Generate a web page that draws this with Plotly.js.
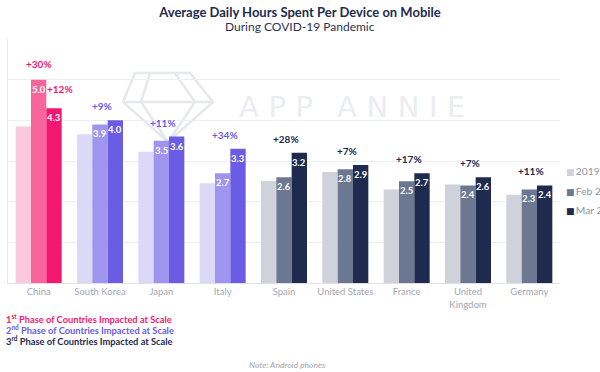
<!DOCTYPE html>
<html>
<head>
<meta charset="utf-8">
<script src="https://cdn.plot.ly/plotly-3.0.1.min.js"></script>
<style>html,body{margin:0;padding:0;background:#fff;}#chart{width:600px;height:372px;}</style>
</head>
<body>
<div id="chart"></div>
<script>
// ---- data ----
const categories = ['China','South Korea','Japan','Italy','Spain','United States','France','United<br>Kingdom','Germany'];
const phase = [1,2,2,2,3,3,3,3,3];
const seriesNames = ['2019','Feb 2020','Mar 2020'];
const hours2019 = [3.85,3.66,3.23,2.45,2.51,2.73,2.30,2.42,2.17];
const hoursFeb2020 = [5.0,3.9,3.5,2.7,2.6,2.8,2.5,2.4,2.3];
const hoursMar2020 = [4.3,4.0,3.6,3.3,3.2,2.9,2.7,2.6,2.4];
const changeMarVs2019 = ['+12%','+9%','+11%','+34%','+28%','+7%','+17%','+7%','+11%'];
const changeFebVs2019China = '+30%';
const phaseNotes = ['1<sup>st</sup> Phase of Countries Impacted at Scale','2<sup>nd</sup> Phase of Countries Impacted at Scale','3<sup>rd</sup> Phase of Countries Impacted at Scale'];
const titleText = 'Average Daily Hours Spent Per Device on Mobile';
const subtitleText = 'During COVID-19 Pandemic';

// ---- styles ----
const FONT = 'Lato, "Open Sans", "DejaVu Sans", sans-serif';
const phaseColors = {
  1: ['#fbc9dc','#f7659c','#f2176f'],
  2: ['#dcd9f7','#9f94ee','#6a5ce3'],
  3: ['#cfd2da','#6c7791','#1e2b4f']
};
const phaseTextColors = {1:'#f2176f', 2:'#6a5ce3', 3:'#1e2b4f'};
const M = {l:8, r:40, t:39, b:89};
const W = 600, H = 372;
const plotW = W - M.l - M.r, plotH = H - M.t - M.b;
const bargap = 0.25;
const barW = plotW / categories.length * (1 - bargap) / 3;
const px2x = p => (p - M.l) / plotW;
const px2y = p => (H - M.b - p) / plotH;

const seriesValues = [hours2019, hoursFeb2020, hoursMar2020];
const traces = seriesValues.map((vals, s) => ({
  type: 'bar',
  name: seriesNames[s],
  x: categories,
  y: vals,
  marker: {color: phase.map(p => phaseColors[p][s]), line: {width: 0}},
  showlegend: false,
  hoverinfo: 'x+y+name'
}));

const annotations = [];
// subtitle
annotations.push({
  xref: 'paper', yref: 'paper', x: px2x(300), y: px2y(27),
  xanchor: 'center', yanchor: 'middle', showarrow: false,
  text: subtitleText,
  font: {family: FONT, size: 12, color: '#2a3556'}
});
// value labels inside Feb / Mar bars
[1,2].forEach(s => {
  seriesValues[s].forEach((v, i) => {
    annotations.push({
      x: categories[i], y: v, xref: 'x', yref: 'y',
      text: '<b>' + v.toFixed(1) + '</b>',
      showarrow: false, yanchor: 'top', xanchor: 'center',
      xshift: (s - 1) * barW, yshift: -2,
      font: {family: FONT, size: 9.5, color: '#ffffff'}
    });
  });
});
// percent change labels
annotations.push({
  x: categories[0], y: hoursFeb2020[0], xref: 'x', yref: 'y',
  text: '<b>' + changeFebVs2019China + '</b>', showarrow: false,
  yanchor: 'middle', yshift: 16, xshift: 0,
  font: {family: FONT, size: 10, color: phaseTextColors[1]}
});
changeMarVs2019.forEach((t, i) => {
  const china = i === 0;
  annotations.push({
    x: categories[i], y: hoursMar2020[i], xref: 'x', yref: 'y',
    text: '<b>' + t + '</b>', showarrow: false,
    yanchor: 'middle', yshift: china ? 19 : 14, xshift: china ? barW + 6 : 2,
    font: {family: FONT, size: 10, color: phaseTextColors[phase[i]]}
  });
});
// legend (drawn as annotations to keep swatch close to text)
const legendY = [170.5, 190.5, 210.5];
seriesNames.forEach((n, s) => {
  annotations.push({
    xref: 'paper', yref: 'paper', x: px2x(564), y: px2y(legendY[s]),
    xanchor: 'left', yanchor: 'middle', showarrow: false,
    text: '<span style="color:' + phaseColors[3][s] + ';font-size:9px">■</span>\u2009' + n,
    font: {family: FONT, size: 10.3, color: '#8e93a0'}
  });
});
// phase notes
const noteY = [319, 330, 340.5];
phaseNotes.forEach((t, k) => {
  annotations.push({
    xref: 'paper', yref: 'paper', x: px2x(4), y: px2y(noteY[k]),
    xanchor: 'left', yanchor: 'middle', showarrow: false,
    text: '<b>' + t + '</b>',
    font: {family: FONT, size: 9.3, color: phaseTextColors[k + 1]}
  });
});
// footnote
annotations.push({
  xref: 'paper', yref: 'paper', x: px2x(287), y: px2y(365),
  xanchor: 'center', yanchor: 'middle', showarrow: false,
  text: '<i>Note: Android phones</i>',
  font: {family: FONT, size: 8.5, color: '#a0a5b0'}
});
// watermark text
annotations.push({
  xref: 'paper', yref: 'paper', x: px2x(237), y: px2y(107),
  xanchor: 'left', yanchor: 'middle', showarrow: false,
  text: 'A\u2004P\u2004P\u2002\u2004A\u2004N\u2004N\u2004I\u2004E',
  font: {family: '"DejaVu Sans", sans-serif', size: 29, color: '#ebedf0'}
});

// watermark gem outline
const P = (x, y) => px2x(x).toFixed(4) + ',' + px2y(y).toFixed(4);
const gemPath = 'M' + P(135,73) + ' L' + P(190,73) + ' L' + P(213,102) + ' L' + P(168,142) + ' L' + P(123,102) + ' Z' +
  ' M' + P(123,102) + ' L' + P(213,102) +
  ' M' + P(150,73) + ' L' + P(141,102) + ' L' + P(168,142) +
  ' M' + P(175,73) + ' L' + P(195,102) + ' L' + P(168,142);
const shapes = [{
  type: 'path', xref: 'paper', yref: 'paper', path: gemPath,
  line: {color: '#e6e8ec', width: 2.5}, layer: 'below'
}];

const layout = {
  width: W, height: H,
  margin: {l: M.l, r: M.r, t: M.t, b: M.b, pad: 0, autoexpand: false},
  paper_bgcolor: '#ffffff', plot_bgcolor: 'rgba(0,0,0,0)',
  font: {family: FONT, color: '#1e2b4f'},
  title: {
    text: '<b>' + titleText + '</b>',
    font: {family: FONT, size: 13, color: '#1e2b4f'},
    xref: 'container', x: 0.5, xanchor: 'center',
    yref: 'container', y: 1 - 12/H, yanchor: 'middle'
  },
  barmode: 'group', bargap: bargap, bargroupgap: 0,
  showlegend: false,
  xaxis: {
    type: 'category', showgrid: false, zeroline: false,
    showline: true, linecolor: '#dfe1e6', linewidth: 1,
    ticks: '', tickfont: {family: FONT, size: 9.5, color: '#a3a8b3'},
    fixedrange: true
  },
  yaxis: {
    range: [0, 6], dtick: 1, showticklabels: false, ticks: '',
    showgrid: true, gridcolor: '#eceef2', gridwidth: 1,
    zeroline: false, showline: true, linecolor: '#e6e8ec', linewidth: 1,
    fixedrange: true
  },
  annotations: annotations,
  shapes: shapes
};

Plotly.newPlot('chart', traces, layout, {displayModeBar: false, staticPlot: true});
</script>
</body>
</html>
